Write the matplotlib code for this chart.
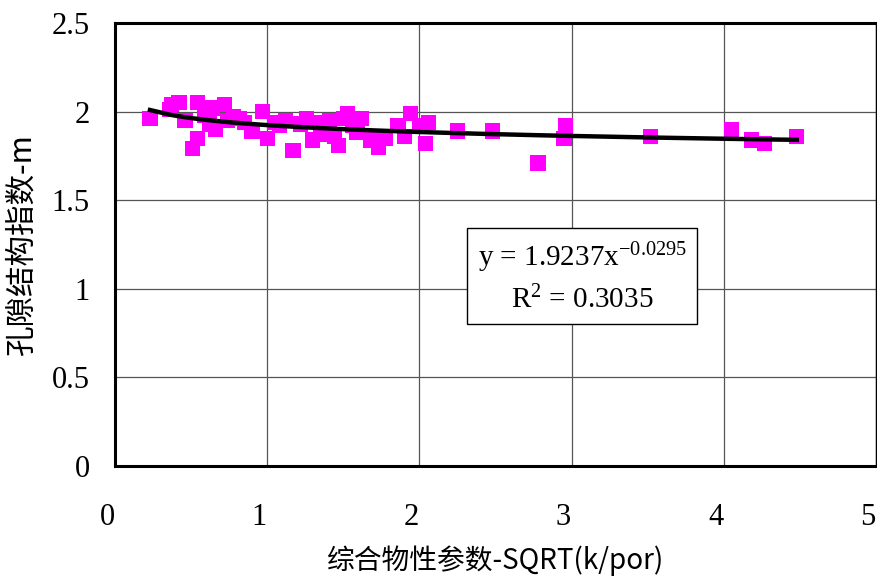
import numpy as np
import matplotlib.pyplot as plt
import matplotlib.transforms as mtransforms

# 综合物性参数 SQRT(k/por) 与 孔隙结构指数 m
sqrt_k_por = [0.23, 0.37, 0.42, 0.36, 0.46, 0.51, 0.54, 0.54, 0.59, 0.64,
              0.66, 0.72, 0.74, 0.82, 0.85, 0.90, 0.97, 1.00, 1.05, 1.12,
              1.17, 1.22, 1.26, 1.30, 1.35, 1.36, 1.41, 1.47, 1.50, 1.53,
              1.56, 1.59, 1.68, 1.73, 1.78, 1.86, 1.90, 1.94, 2.00, 2.04,
              2.06, 2.25, 2.48, 2.78, 2.95, 2.96, 3.52, 4.05, 4.18, 4.27,
              4.48, 0.62, 0.78, 1.08, 1.44, 1.62]
m_index = [1.96, 2.04, 2.05, 2.01, 1.95, 1.79, 1.85, 2.05, 1.98, 2.02,
           1.90, 2.04, 1.95, 1.96, 1.94, 1.89, 2.00, 1.85, 1.94, 1.95,
           1.78, 1.93, 1.96, 1.84, 1.87, 1.94, 1.95, 1.81, 1.96, 1.99,
           1.92, 1.88, 1.84, 1.80, 1.85, 1.92, 1.86, 1.99, 1.92, 1.82,
           1.94, 1.89, 1.89, 1.71, 1.85, 1.92, 1.86, 1.90, 1.84, 1.82,
           1.86, 1.93, 1.97, 1.92, 1.86, 1.96]

# 幂函数拟合 y = a * x^b
fit_a = 1.9237
fit_b = -0.0295
fit_r2 = 0.3035

x_ticks = [0, 1, 2, 3, 4, 5]
y_ticks = [0, 0.5, 1, 1.5, 2, 2.5]

num_font = 'Liberation Serif'
cjk_font = ['Noto Sans CJK SC', 'DejaVu Sans']
plt.rcParams['mathtext.fontset'] = 'custom'
plt.rcParams['mathtext.rm'] = num_font
plt.rcParams['mathtext.it'] = num_font

fig = plt.figure(figsize=(8.77, 5.8), dpi=100)
ax = fig.add_axes([0.1311, 0.1966, 0.8677, 0.7638])

ax.set_xlim(0, 5)
ax.set_ylim(0, 2.5)
ax.set_xticks(x_ticks)
ax.set_yticks(y_ticks)
ax.set_xticklabels([str(v) for v in x_ticks], fontfamily=num_font, fontsize=22)
ax.set_yticklabels([f'{v:g}' for v in y_ticks], fontfamily=num_font, fontsize=22)
ax.tick_params(axis='both', length=0)
ax.tick_params(axis='x', pad=27)
ax.tick_params(axis='y', pad=18)

# x 轴刻度标签略向左偏
shift = mtransforms.ScaledTranslation(-8 / 100, 0, fig.dpi_scale_trans)
for lbl in ax.get_xticklabels():
    lbl.set_transform(lbl.get_transform() + shift)

ax.grid(True, color='#555555', linewidth=0.9)
ax.set_axisbelow(True)
for side in ['left', 'bottom', 'top']:
    ax.spines[side].set_linewidth(2.2)
ax.spines['right'].set_linewidth(1.0)

ax.scatter(sqrt_k_por, m_index, marker='s', s=120, color='#FF00FF',
           edgecolors='none', zorder=3)

xs = np.sort(np.array(sqrt_k_por))
ax.plot(xs, fit_a * xs ** fit_b, color='black', linewidth=3.2, zorder=4)

ax.text(3.07, 1.065,
        f'y = {fit_a}x$^{{{fit_b}}}$\nR$^{{2}}$ = {fit_r2}',
        fontfamily=num_font, fontsize=21, ha='center', va='center',
        linespacing=1.45,
        bbox=dict(boxstyle='square,pad=0.35', facecolor='white',
                  edgecolor='black', linewidth=1.0), zorder=5)

ax.set_xlabel('综合物性参数-SQRT(k/por)', fontfamily=cjk_font, fontsize=20,
              labelpad=9)
ax.set_ylabel('孔隙结构指数-m', fontfamily=cjk_font, fontsize=22, labelpad=10)

fig.savefig('out.png', dpi=100)
